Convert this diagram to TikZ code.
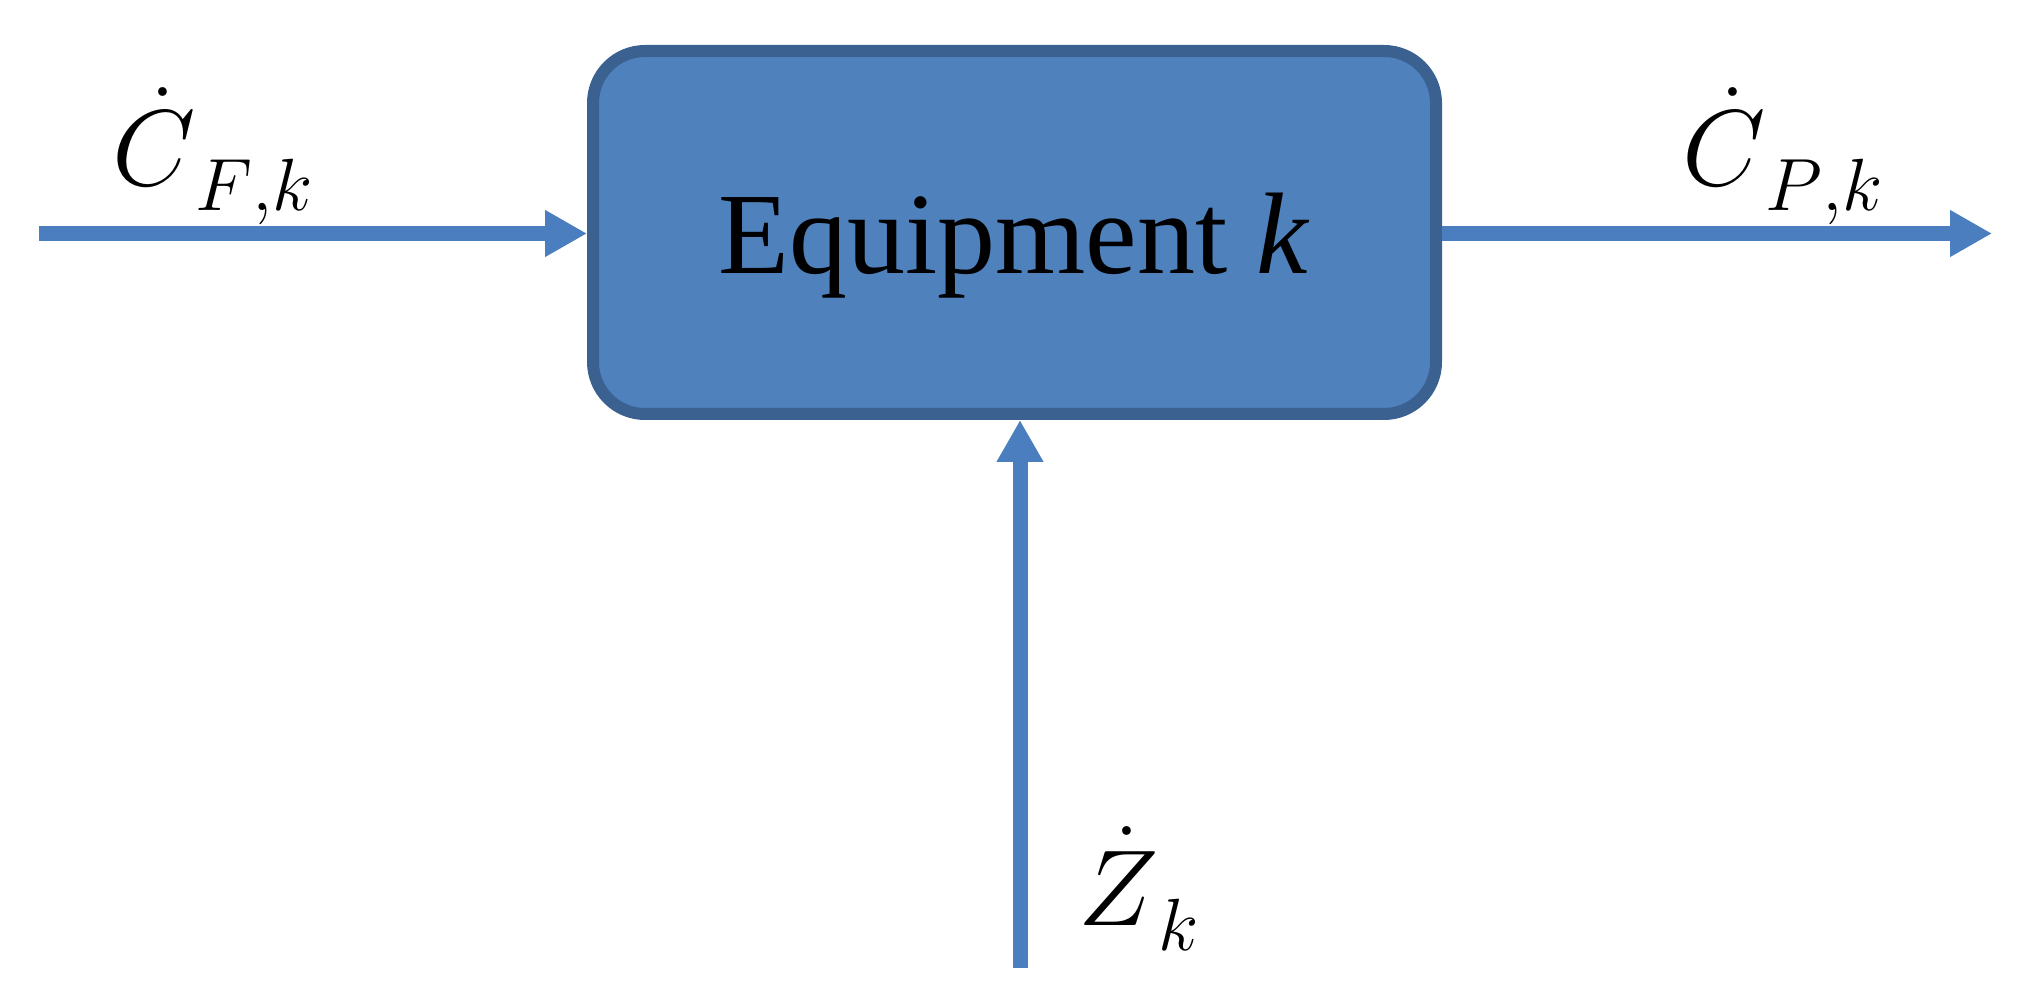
\documentclass[tikz,border=0pt]{standalone}
\usepackage{fix-cm}
\usepackage{fontspec}
\setmainfont{Liberation Serif}
\usetikzlibrary{arrows.meta}
\definecolor{boxfill}{HTML}{4F81BD}
\definecolor{boxline}{HTML}{3A6190}
\definecolor{flowcol}{HTML}{4A7EBE}
\tikzset{
  equip/.style={draw=boxline, fill=boxfill, line width=6pt, rounded corners=26pt,
    minimum width=421.5pt, minimum height=181.5pt, inner sep=0pt},
  flow/.style={draw=flowcol, line width=7.5pt, -{Triangle[length=21pt,width=22pt]}},
  lbl/.style={inner sep=0pt, anchor=base west}
}
\newcommand{\mainsz}{\fontsize{54}{60}\selectfont}
\newcommand{\subsz}{\fontsize{37}{42}\selectfont}
\newcommand{\flowlabel}[2]{{\mainsz$#1$}\raisebox{-12.5pt}{\subsz$#2$}}
\begin{document}
\begin{tikzpicture}[x=0.5pt,y=-0.5pt]
\useasboundingbox (0,0) rectangle (2024,999);
\node[equip] (box) at (1014.5,232.5) {};
\node[font=\fontsize{58}{66}\selectfont, anchor=base, inner sep=0pt] (name) at (1014,274) {Equipment \textit{k}};
\coordinate (inL) at (39,233.5);
\coordinate (outR) at (1992,233.5);
\coordinate (inB) at (1020,968);
\draw[flow] (inL) -- (box.west |- inL);
\draw[flow] (box.east |- outR) -- (outR);
\draw[flow] (inB) -- (box.south -| inB);
\node[lbl] (cf) at (112,186) {\flowlabel{\dot{C}}{F{,}k}};
\node[lbl] (cp) at (1682,186) {\flowlabel{\dot{C}}{P{,}k}};
\node[lbl] (zk) at (1078,925) {\flowlabel{\dot{Z}}{k}};
\end{tikzpicture}
\end{document}
